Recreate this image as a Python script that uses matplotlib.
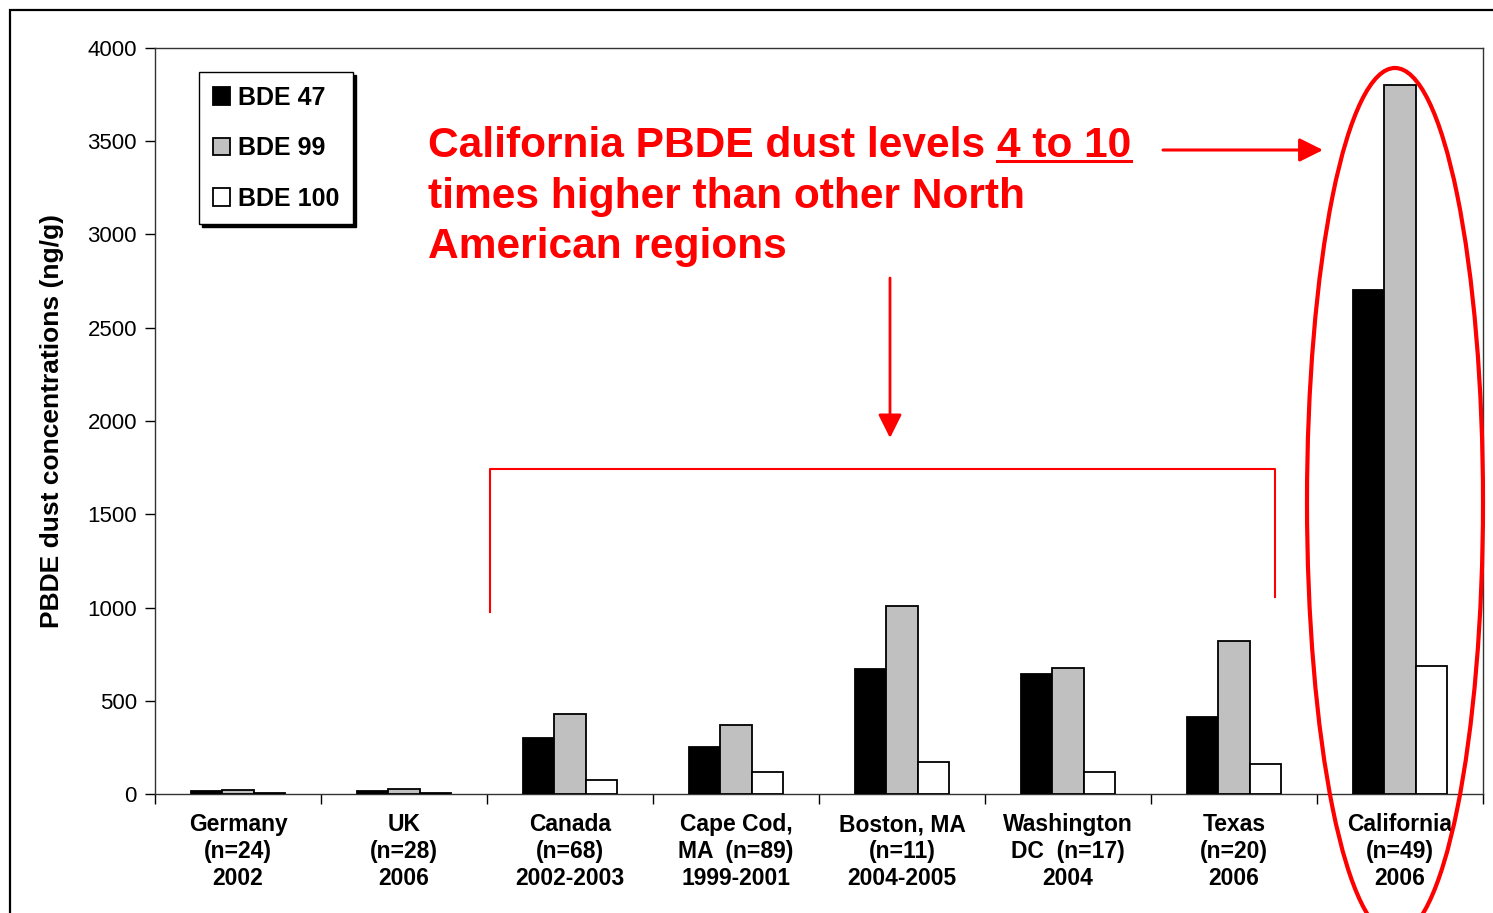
import matplotlib
matplotlib.use("Agg")
import matplotlib.pyplot as plt
import numpy as np
from matplotlib.patches import Rectangle, Ellipse, FancyArrowPatch
from matplotlib.lines import Line2D

# PBDE congener concentrations in house dust (ng/g)
categories = ["Germany\n(n=24)\n2002", "UK\n(n=28)\n2006", "Canada\n(n=68)\n2002-2003",
              "Cape Cod,\nMA  (n=89)\n1999-2001", "Boston, MA\n(n=11)\n2004-2005",
              "Washington\nDC  (n=17)\n2004", "Texas\n(n=20)\n2006", "California\n(n=49)\n2006"]
bde47 = [16, 15, 300, 252, 670, 643, 413, 2700]
bde99 = [20, 25, 429, 370, 1008, 676, 820, 3800]
bde100 = [7, 7, 75, 118, 172, 118, 161, 686]
series_names = ["BDE 47", "BDE 99", "BDE 100"]
yticks = [0, 500, 1000, 1500, 2000, 2500, 3000, 3500, 4000]

W, H = 1493, 913
fig = plt.figure(figsize=(W / 100, H / 100), dpi=100)
plt.rcParams['font.family'] = ['Liberation Sans', 'DejaVu Sans']


def fx(px):
    return px / W


def fy(py):
    return 1 - py / H


# outer slide frame
fig.patches.append(Rectangle((fx(10), fy(960)), fx(1600), fy(10) - fy(960),
                             transform=fig.transFigure, fill=False, lw=1.6,
                             edgecolor='black', zorder=0))

ax = fig.add_axes([fx(155), fy(794), fx(1483) - fx(155), fy(48) - fy(794)])
x = np.arange(len(categories))
bw = 0.187
colors = ['black', '#c0c0c0', 'white']
for k, (vals, c, name) in enumerate(zip([bde47, bde99, bde100], colors, series_names)):
    ax.bar(x + (k - 1) * bw, vals, width=bw, color=c, edgecolor='black',
           linewidth=1.3, label=name, zorder=3)

ax.set_xlim(-0.5, len(categories) - 0.5)
ax.set_ylim(0, 4000)
ax.set_yticks(yticks)
ax.set_yticklabels([str(v) for v in yticks], fontsize=16)
ax.set_xticks(np.arange(len(categories) + 1) - 0.5)
ax.set_xticklabels([])
ax.set_xticks(x, minor=True)
ax.set_xticklabels(categories, minor=True, fontsize=16.5, fontweight='bold',
                   linespacing=1.22)
ax.tick_params(axis='x', which='minor', length=0, pad=14)
ax.tick_params(axis='x', which='major', direction='out', length=7, width=1)
ax.tick_params(axis='y', direction='out', length=7, width=1, pad=6)
for s in ax.spines.values():
    s.set_linewidth(1.0)
    s.set_color('#333333')
ax.set_ylabel("PBDE dust concentrations (ng/g)", fontsize=19, fontweight='bold',
              labelpad=17)

leg = ax.legend(loc='upper left', bbox_to_anchor=(fx(199), fy(72)),
                bbox_transform=fig.transFigure, fancybox=False,
                shadow={'color': 'black', 'alpha': 1}, framealpha=1,
                edgecolor='black', prop={'size': 18, 'weight': 'bold'},
                handlelength=0.7, handleheight=0.7, handletextpad=0.3,
                labelspacing=1.06, borderpad=0.55, borderaxespad=0)
leg.get_frame().set_linewidth(1.0)

# red annotation text
red = '#ff0000'
tfont = dict(fontsize=30.6, fontweight='bold', color=red,
             family=['Liberation Sans', 'DejaVu Sans'])
t1 = fig.text(fx(428), fy(157), "California PBDE dust levels ", va='baseline',
              ha='left', **tfont)
fig.text(fx(428), fy(208), "times higher than other North", va='baseline',
         ha='left', **tfont)
fig.text(fx(428), fy(258), "American regions", va='baseline', ha='left', **tfont)
renderer = fig.canvas.get_renderer()
bb = t1.get_window_extent(renderer)
x_next = bb.x1 / fig.bbox.width
t2 = fig.text(x_next, fy(157), "4 to 10", va='baseline', ha='left', **tfont)
bb2 = t2.get_window_extent(renderer)
fig.lines.append(Line2D([bb2.x0 / fig.bbox.width, bb2.x1 / fig.bbox.width],
                        [fy(161), fy(161)], transform=fig.transFigure,
                        color=red, lw=2.2))

# arrows
fig.patches.append(FancyArrowPatch((fx(1163), fy(150)), (fx(1323), fy(150)),
                                   transform=fig.transFigure, color=red, lw=2.2,
                                   arrowstyle='-|>,head_length=0.9,head_width=0.45',
                                   mutation_scale=16, shrinkA=0, shrinkB=0))
fig.patches.append(FancyArrowPatch((fx(890), fy(278)), (fx(890), fy(438)),
                                   transform=fig.transFigure, color=red, lw=2.0,
                                   arrowstyle='-|>,head_length=0.9,head_width=0.45',
                                   mutation_scale=16, shrinkA=0, shrinkB=0))
# bracket over the North American sites
fig.lines.append(Line2D([fx(490), fx(490), fx(1275), fx(1275)],
                        [fy(612), fy(469), fy(469), fy(597)],
                        transform=fig.transFigure, color=red, lw=1.5))
# ellipse around California
fig.patches.append(Ellipse((fx(1395), fy(502)), fx(176), fy(0) - fy(868),
                           transform=fig.transFigure, fill=False,
                           edgecolor=red, lw=3, zorder=5))

fig.savefig("out.png", dpi=100)
